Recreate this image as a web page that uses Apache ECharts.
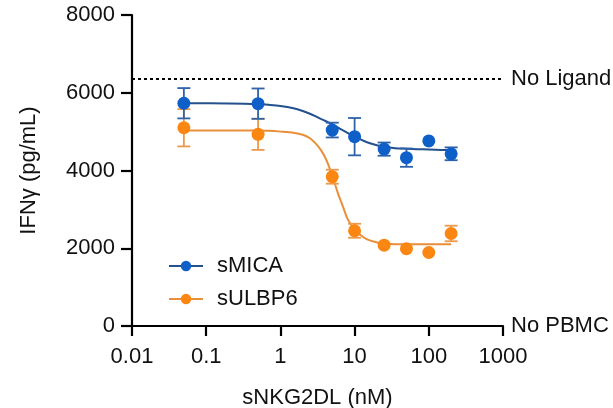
<!DOCTYPE html>
<html>
<head>
<meta charset="utf-8">
<script src="https://cdn.jsdelivr.net/npm/echarts@6/dist/echarts.min.js"></script>
<style>html,body{margin:0;padding:0;background:#fff}#c{width:613px;height:408px}</style>
</head>
<body>
<div id="c"></div>
<script>
// Measured points
const conc = [0.05, 0.5, 5, 10, 25, 50, 100, 200];
const micaMean = [5730, 5720, 5040, 4870, 4550, 4330, 4760, 4430];
const micaErr  = [390, 390, 190, 480, 170, 235, 0, 165];
const ulbpMean = [5100, 4930, 3840, 2450, 2080, 1990, 1890, 2380];
const ulbpErr  = [480, 400, 180, 180, 0, 0, 0, 200];
// Fitted curves
const micaFitX = [0.05, 0.2, 0.5, 0.7, 1, 1.5, 2, 2.5, 3, 3.5, 4, 4.5, 5, 6, 7, 8, 10, 12, 15, 20, 25, 35, 50, 70, 100, 150, 200];
const micaFitY = [5730, 5725, 5710, 5690, 5660, 5600, 5530, 5460, 5390, 5330, 5280, 5230, 5180, 5100, 5030, 4970, 4880, 4800, 4720, 4650, 4610, 4575, 4560, 4548, 4540, 4530, 4520];
const ulbpFitX = [0.05, 0.2, 0.5, 0.7, 1, 1.5, 2, 2.5, 3, 3.5, 4, 4.5, 5, 5.5, 6, 7, 8, 9, 10, 12, 15, 20, 25, 35, 50, 100, 200];
const ulbpFitY = [5030, 5030, 5030, 5020, 5000, 4970, 4920, 4830, 4690, 4530, 4340, 4110, 3860, 3620, 3400, 3060, 2760, 2600, 2480, 2340, 2220, 2150, 2120, 2105, 2100, 2100, 2100];
// Reference levels
const noLigand = 6350;
const noPBMC = 0;
const xTicks = [0.01, 0.1, 1, 10, 100, 1000];
const yTicks = [0, 2000, 4000, 6000, 8000];

const FONT = 'Liberation Sans, Arial, sans-serif';
const FS = 22;
const C = {
  micaPt: '#0f5fc9', micaLine: '#24518d', micaErr: '#2e62a9',
  ulbpPt: '#fb8612', ulbpLine: '#e98f3a', ulbpErr: '#eb9a4c'
};

function errData(m, e) {
  return conc.map((x, i) => [x, m[i] - e[i], m[i] + e[i]]).filter((d, i) => e[i] > 0);
}
function errSeries(data, color) {
  return {
    type: 'custom', data: data, z: 3, silent: true,
    renderItem: function (params, api) {
      const x = api.value(0);
      const lo = api.coord([x, api.value(1)]);
      const hi = api.coord([x, api.value(2)]);
      const w = 6.5;
      const st = { stroke: color, lineWidth: 1.8, fill: null };
      return { type: 'group', children: [
        { type: 'line', shape: { x1: lo[0], y1: lo[1], x2: hi[0], y2: hi[1] }, style: st },
        { type: 'line', shape: { x1: lo[0] - w, y1: lo[1], x2: lo[0] + w, y2: lo[1] }, style: st },
        { type: 'line', shape: { x1: hi[0] - w, y1: hi[1], x2: hi[0] + w, y2: hi[1] }, style: st }
      ]};
    }
  };
}

const chart = echarts.init(document.getElementById('c'), null, { renderer: 'canvas' });
chart.setOption({
  animation: false,
  backgroundColor: '#fff',
  textStyle: { fontFamily: FONT },
  grid: { left: 132, right: 110, top: 15, bottom: 82, containLabel: false, outerBoundsMode: 'none' },
  legend: {
    left: 163, top: 250, orient: 'vertical',
    itemWidth: 34, itemHeight: 13, itemGap: 11,
    data: ['sMICA', 'sULBP6'],
    textStyle: { fontSize: FS, color: '#111', fontFamily: FONT, padding: [0, 0, 0, 9] }
  },
  xAxis: {
    type: 'log', logBase: 10, min: xTicks[0], max: xTicks[xTicks.length - 1],
    name: 'sNKG2DL (nM)', nameLocation: 'middle', nameGap: 61,
    nameTextStyle: { fontSize: FS, color: '#111', fontFamily: FONT },
    axisLine: { onZero: false, lineStyle: { color: '#000', width: 2.2 } },
    axisTick: { show: true, length: 10, lineStyle: { color: '#000', width: 2.2 } },
    minorTick: { show: false },
    splitLine: { show: false },
    axisLabel: { fontSize: FS, color: '#111', margin: 20, fontFamily: FONT,
      formatter: function (v) { const t = xTicks.find(k => Math.abs(Math.log10(k) - Math.log10(v)) < 1e-6); return t !== undefined ? String(t) : ''; } }
  },
  yAxis: {
    type: 'value', min: yTicks[0], max: yTicks[yTicks.length - 1], interval: 2000,
    name: 'IFNγ (pg/mL)', nameLocation: 'middle', nameGap: 92,
    nameTextStyle: { fontSize: FS, color: '#111', fontFamily: FONT },
    axisLine: { show: true, lineStyle: { color: '#000', width: 2.2 } },
    axisTick: { show: true, length: 11, lineStyle: { color: '#000', width: 2.2 } },
    splitLine: { show: false },
    axisLabel: { fontSize: FS, color: '#111', margin: 17, fontFamily: FONT,
      formatter: function (v) { return String(v); } }
  },
  series: [
    {
      name: 'sULBP6', type: 'line', smooth: 0.3,
      data: ulbpFitX.map((x, i) => [x, ulbpFitY[i]]),
      symbol: 'circle', showSymbol: false, z: 2, silent: true,
      itemStyle: { color: C.ulbpPt }, lineStyle: { color: C.ulbpLine, width: 2 }
    },
    {
      name: 'sMICA', type: 'line', smooth: 0.3,
      data: micaFitX.map((x, i) => [x, micaFitY[i]]),
      symbol: 'circle', showSymbol: false, z: 2, silent: true,
      itemStyle: { color: C.micaPt }, lineStyle: { color: C.micaLine, width: 2 },
      markLine: {
        silent: true, symbol: 'none', animation: false,
        data: [
          { yAxis: noLigand, lineStyle: { type: [3, 3], color: '#000', width: 2.2 },
            label: { show: true, position: 'end', formatter: 'No Ligand', fontSize: FS, color: '#111', fontFamily: FONT, distance: 8 } },
          { yAxis: noPBMC, lineStyle: { type: 'solid', color: 'rgba(0,0,0,0)', width: 1 },
            label: { show: true, position: 'end', formatter: 'No PBMC', fontSize: FS, color: '#111', fontFamily: FONT, distance: 8 } }
        ]
      }
    },
    errSeries(errData(ulbpMean, ulbpErr), C.ulbpErr),
    errSeries(errData(micaMean, micaErr), C.micaErr),
    {
      name: 'sULBP6', type: 'scatter', symbol: 'circle', symbolSize: 13, z: 4,
      data: conc.map((x, i) => [x, ulbpMean[i]]), itemStyle: { color: C.ulbpPt, opacity: 1 }
    },
    {
      name: 'sMICA', type: 'scatter', symbol: 'circle', symbolSize: 13, z: 5,
      data: conc.map((x, i) => [x, micaMean[i]]), itemStyle: { color: C.micaPt, opacity: 1 }
    }
  ]
});
</script>
</body>
</html>
